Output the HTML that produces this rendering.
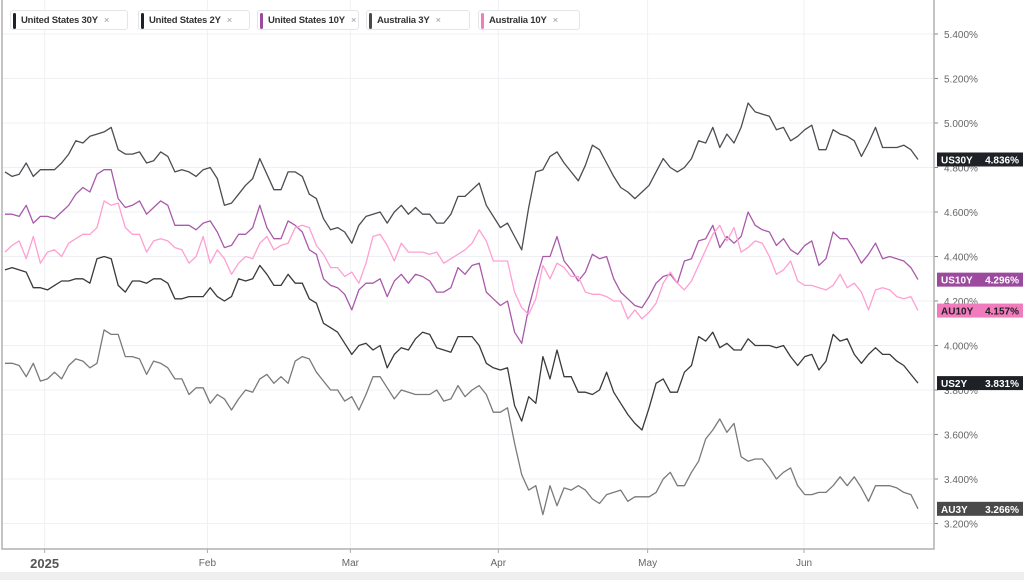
<!DOCTYPE html>
<html><head><meta charset="utf-8"><style>
body{margin:0;width:1024px;height:580px;overflow:hidden;background:#fff;font-family:"Liberation Sans",sans-serif;}
.chip{position:absolute;top:10px;height:20px;border:1px solid #e3e5e8;border-radius:3px;background:#fff;font-size:9.5px;font-weight:bold;color:#333;line-height:20px;padding-left:10px;box-sizing:border-box;white-space:nowrap;overflow:hidden;letter-spacing:-0.2px;}
.chip b{position:absolute;left:2px;top:2px;width:3px;height:16px;border-radius:2px;}
.chip span{color:#999;font-weight:normal;margin-left:6px;}
</style></head><body>
<svg id="chart" width="1024" height="580" style="position:absolute;left:0;top:0"></svg>
<div class="chip" style="left:10px;width:118px"><b style="background:#1e2227"></b>United States 30Y<span>×</span></div>
<div class="chip" style="left:138px;width:112px"><b style="background:#1e2227"></b>United States 2Y<span>×</span></div>
<div class="chip" style="left:257px;width:102px"><b style="background:#9c4a9e"></b>United States 10Y<span>×</span></div>
<div class="chip" style="left:366px;width:104px"><b style="background:#4a4a4a"></b>Australia 3Y<span>×</span></div>
<div class="chip" style="left:478px;width:102px"><b style="background:#f07bbd"></b>Australia 10Y<span>×</span></div>
<script>
const yTicks=[3.2,3.4,3.6,3.8,4.0,4.2,4.4,4.6,4.8,5.0,5.2,5.4];
const monthLabels=["2025","Feb","Mar","Apr","May","Jun"];
const monthIdx=[5.6,28.6,48.8,69.7,90.8,112.9];
const us30y=[4.78,4.76,4.77,4.82,4.76,4.79,4.79,4.79,4.82,4.86,4.92,4.91,4.94,4.95,4.96,4.98,4.88,4.86,4.86,4.87,4.82,4.83,4.87,4.85,4.78,4.79,4.78,4.76,4.79,4.80,4.75,4.63,4.64,4.68,
4.72,4.75,4.84,4.77,4.70,4.70,4.78,4.78,4.76,4.68,4.66,4.57,4.52,4.53,4.51,4.46,4.54,4.58,4.59,4.60,4.55,4.60,4.63,4.59,4.62,4.59,4.59,4.55,4.55,4.59,4.67,4.67,4.70,
4.73,4.63,4.58,4.53,4.55,4.49,4.43,4.62,4.78,4.79,4.85,4.87,4.82,4.78,4.74,4.81,4.90,4.88,4.82,4.76,4.71,4.69,4.66,4.69,4.72,4.78,4.84,4.80,4.78,4.80,4.84,4.92,
4.91,4.98,4.89,4.95,4.91,4.98,5.09,5.05,5.04,5.03,4.97,4.98,4.92,4.94,4.97,4.99,4.88,4.88,4.97,4.95,4.94,4.92,4.85,4.91,4.98,4.89,4.89,4.89,4.90,4.88,4.836];
const us10y=[4.59,4.59,4.58,4.63,4.55,4.58,4.58,4.57,4.60,4.63,4.68,4.71,4.69,4.77,4.79,4.79,4.66,4.62,4.63,4.65,4.59,4.62,4.65,4.63,4.54,4.54,4.54,4.52,4.55,4.56,4.51,4.44,4.45,4.50,
4.50,4.53,4.63,4.53,4.48,4.48,4.56,4.54,4.51,4.43,4.41,4.30,4.27,4.26,4.23,4.16,4.25,4.28,4.28,4.30,4.22,4.29,4.32,4.28,4.32,4.31,4.29,4.24,4.24,4.26,4.35,4.32,4.36,
4.37,4.24,4.21,4.18,4.20,4.06,4.01,4.17,4.29,4.40,4.40,4.49,4.38,4.34,4.29,4.33,4.41,4.39,4.40,4.30,4.24,4.21,4.18,4.17,4.22,4.28,4.31,4.32,4.28,4.38,4.39,4.47,
4.48,4.54,4.44,4.49,4.46,4.49,4.60,4.54,4.52,4.51,4.45,4.48,4.43,4.41,4.45,4.47,4.36,4.39,4.51,4.48,4.48,4.43,4.37,4.41,4.46,4.39,4.40,4.39,4.38,4.35,4.296];
const au10y=[4.42,4.45,4.47,4.39,4.49,4.37,4.42,4.43,4.40,4.46,4.48,4.50,4.50,4.53,4.65,4.63,4.64,4.53,4.50,4.50,4.42,4.47,4.48,4.47,4.44,4.43,4.37,4.40,4.49,4.37,4.43,4.39,4.32,4.37,
4.40,4.39,4.46,4.49,4.43,4.45,4.46,4.53,4.54,4.53,4.45,4.41,4.35,4.35,4.31,4.33,4.28,4.37,4.49,4.50,4.45,4.38,4.46,4.42,4.42,4.42,4.41,4.42,4.37,4.39,4.41,4.43,4.46,
4.52,4.47,4.38,4.38,4.38,4.24,4.17,4.14,4.21,4.36,4.30,4.37,4.35,4.31,4.31,4.24,4.23,4.23,4.22,4.20,4.20,4.12,4.16,4.12,4.15,4.19,4.28,4.33,4.28,4.25,4.29,4.36,
4.43,4.50,4.54,4.47,4.53,4.42,4.44,4.47,4.46,4.40,4.32,4.34,4.38,4.29,4.27,4.27,4.26,4.25,4.27,4.32,4.26,4.28,4.24,4.16,4.25,4.26,4.25,4.22,4.21,4.22,4.157];
const us2y=[4.34,4.35,4.34,4.33,4.26,4.26,4.25,4.27,4.29,4.29,4.30,4.30,4.28,4.39,4.40,4.39,4.27,4.24,4.29,4.29,4.28,4.30,4.30,4.28,4.21,4.21,4.22,4.22,4.22,4.26,4.22,4.20,4.22,4.30,
4.29,4.30,4.36,4.32,4.27,4.27,4.32,4.28,4.28,4.21,4.19,4.10,4.08,4.06,4.01,3.96,4.00,4.01,3.98,4.00,3.90,3.96,3.99,3.98,4.03,4.06,4.05,3.99,3.98,3.97,4.04,4.04,4.04,
4.00,3.92,3.90,3.89,3.90,3.73,3.66,3.77,3.74,3.95,3.85,3.98,3.86,3.86,3.79,3.79,3.78,3.80,3.88,3.79,3.74,3.69,3.65,3.62,3.72,3.83,3.85,3.79,3.79,3.88,3.91,4.04,
4.02,4.06,3.99,4.01,3.98,3.98,4.03,4.00,4.00,4.00,3.99,4.00,3.95,3.91,3.95,3.96,3.89,3.93,4.05,4.02,4.03,3.96,3.92,3.96,3.99,3.96,3.96,3.93,3.91,3.87,3.831];
const au3y=[3.92,3.92,3.91,3.86,3.92,3.84,3.85,3.88,3.85,3.91,3.94,3.93,3.90,3.92,4.07,4.05,4.05,3.95,3.95,3.94,3.87,3.93,3.92,3.90,3.85,3.85,3.78,3.81,3.81,3.74,3.78,3.76,3.71,3.76,
3.80,3.79,3.85,3.87,3.83,3.86,3.83,3.93,3.95,3.94,3.88,3.84,3.80,3.80,3.75,3.77,3.71,3.78,3.86,3.86,3.81,3.76,3.80,3.79,3.78,3.78,3.78,3.80,3.75,3.76,3.82,3.77,3.80,
3.82,3.78,3.70,3.70,3.72,3.56,3.42,3.35,3.37,3.24,3.37,3.28,3.36,3.35,3.37,3.35,3.31,3.29,3.33,3.34,3.35,3.30,3.32,3.32,3.32,3.34,3.40,3.43,3.37,3.37,3.43,3.48,
3.58,3.62,3.67,3.61,3.65,3.50,3.48,3.49,3.49,3.45,3.40,3.43,3.45,3.37,3.33,3.33,3.34,3.34,3.37,3.41,3.37,3.41,3.36,3.30,3.37,3.37,3.37,3.36,3.34,3.33,3.266];
const seriesNames=["US30Y","US10Y","AU10Y","US2Y","AU3Y"];

const svg=document.getElementById('chart');
const NS="http://www.w3.org/2000/svg";
const N=us30y.length;
const xS=i=>5+i*(913/(N-1));
const yS=v=>123+(5.0-v)*222.5;
function mk(tag,attrs,parent){const e=document.createElementNS(NS,tag);for(const k in attrs)e.setAttribute(k,attrs[k]);(parent||svg).appendChild(e);return e;}

yTicks.forEach(t=>{
  const l=mk('line',{x1:2,x2:934,y1:yS(t),y2:yS(t),stroke:'#eef0f3','stroke-width':1});
  
  
  const tk=mk('line',{x1:934,x2:938,y1:yS(t),y2:yS(t),stroke:'#888'});
  
  
  const tx=mk('text',{x:944,y:yS(t)+4,'font-size':10,fill:'#666','font-family':'Liberation Sans, sans-serif'});
  tx.textContent=t.toFixed(3)+'%';
  
  
});
monthIdx.forEach((m,k)=>{
  const x=xS(m);
  const l=mk('line',{x1:x,x2:x,y1:0,y2:549,stroke:'#eef0f3'});
  
  
  const tk=mk('line',{x1:x,x2:x,y1:549,y2:553,stroke:'#aaa'});
  
  
  const tx=mk('text',{x:x,y:k==0?568:566,'font-size':k==0?13:10,'font-weight':k==0?'bold':'normal',fill:k==0?'#555':'#666','text-anchor':'middle','font-family':'Liberation Sans, sans-serif'});
  tx.textContent=monthLabels[k];
  
  
});
const fr=mk('path',{d:'M2 0 V549 H934 V0',fill:'none',stroke:'#b0b0b0','stroke-width':1.5});


const strip=mk('rect',{x:0,y:572,width:1024,height:8,fill:'#eeeeee'});



const data=[us30y,us10y,au10y,us2y,au3y];
const colors=['#4a4d52','#a85aaa','#ff9fd2','#3a3a3a','#7a7a7a'];
const boxColors=['#1e2227','#9c4a9e','#f07bbd','#1e2227','#4a4a4a'];
const textColors=['#fff','#fff','#222','#fff','#fff'];
data.forEach((arr,s)=>{
  const d=arr.map((v,i)=>(i?'L':'M')+xS(i).toFixed(1)+' '+yS(v).toFixed(1)).join(' ');
  const p=mk('path',{d:d,fill:'none',stroke:colors[s],'stroke-width':1.3,'stroke-linejoin':'round'});
  
  
});
data.forEach((arr,s)=>{
  const v=arr[arr.length-1], y=yS(v);
  const g=mk('g',{});
  
  
  mk('rect',{x:937,y:y-7,width:86,height:14,fill:boxColors[s]},g);
  const t1=mk('text',{x:941,y:y+4,'font-size':10,'font-weight':'bold',fill:textColors[s],'font-family':'Liberation Sans, sans-serif'},g);
  t1.textContent=seriesNames[s];
  const t2=mk('text',{x:1019,y:y+4,'font-size':10,'font-weight':'bold',fill:textColors[s],'text-anchor':'end','font-family':'Liberation Sans, sans-serif'},g);
  t2.textContent=v.toFixed(3)+'%';
});
</script>
</body></html>
